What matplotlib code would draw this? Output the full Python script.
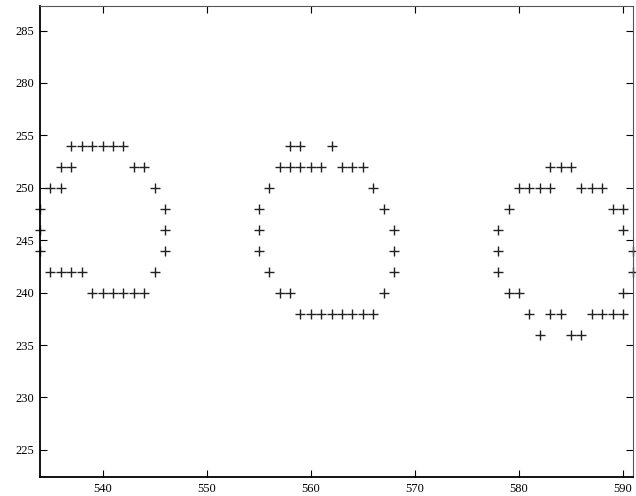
import numpy as np
import matplotlib
matplotlib.use("Agg")
import matplotlib.pyplot as plt

# three ring-shaped point groups (x, y)
left_x = [537, 538, 539, 540, 541, 542, 536, 537, 543, 544, 535, 536, 545,
          534, 546, 534, 546, 534, 546, 535, 536, 537, 538, 545,
          539, 540, 541, 542, 543, 544]
left_y = [254, 254, 254, 254, 254, 254, 252, 252, 252, 252, 250, 250, 250,
          248, 248, 246, 246, 244, 244, 242, 242, 242, 242, 242,
          240, 240, 240, 240, 240, 240]

mid_x = [558, 559, 562, 557, 558, 559, 560, 561, 563, 564, 565, 556, 566,
         555, 567, 555, 568, 555, 568, 556, 568, 557, 558, 567,
         559, 560, 561, 562, 563, 564, 565, 566]
mid_y = [254, 254, 254, 252, 252, 252, 252, 252, 252, 252, 252, 250, 250,
         248, 248, 246, 246, 244, 244, 242, 242, 240, 240, 240,
         238, 238, 238, 238, 238, 238, 238, 238]

right_x = [583, 584, 585, 580, 581, 582, 583, 586, 587, 588,
           579, 589, 590, 578, 590, 578, 591, 578, 591,
           579, 580, 590, 581, 583, 584, 587, 588, 589, 590,
           582, 585, 586]
right_y = [252, 252, 252, 250, 250, 250, 250, 250, 250, 250,
           248, 248, 248, 246, 246, 244, 244, 242, 242,
           240, 240, 240, 238, 238, 238, 238, 238, 238, 238,
           236, 236, 236]

xticks = [540, 550, 560, 570, 580, 590]
yticks = [225, 230, 235, 240, 245, 250, 255, 260, 265]
ytick_labels = ["225", "230", "235", "240", "245", "250", "255", "280", "285"]

plt.rcParams['font.family'] = ['Liberation Serif', 'DejaVu Serif']

fig = plt.figure(figsize=(6.36, 4.96), dpi=100)
ax = fig.add_axes([0.063, 0.038, 0.933, 0.949])

for xs, ys in [(left_x, left_y), (mid_x, mid_y), (right_x, right_y)]:
    ax.plot(xs, ys, '+', color='#222222', markersize=7.5, mew=1.0,
            linestyle='none', clip_on=False)

ax.set_xlim(534, 591)
ax.set_ylim(222.4, 267.3)
ax.set_xticks(xticks)
ax.set_yticks(yticks)
ax.set_yticklabels(ytick_labels)
ax.tick_params(direction='in', length=5, width=0.8, labelsize=9,
               top=True, right=True, pad=4, colors='black')

ax.spines['left'].set_linewidth(1.3)
ax.spines['bottom'].set_linewidth(1.3)
for s in ['top', 'right']:
    ax.spines[s].set_linewidth(0.8)
    ax.spines[s].set_color('#555555')

fig.savefig("out.png", dpi=100)
